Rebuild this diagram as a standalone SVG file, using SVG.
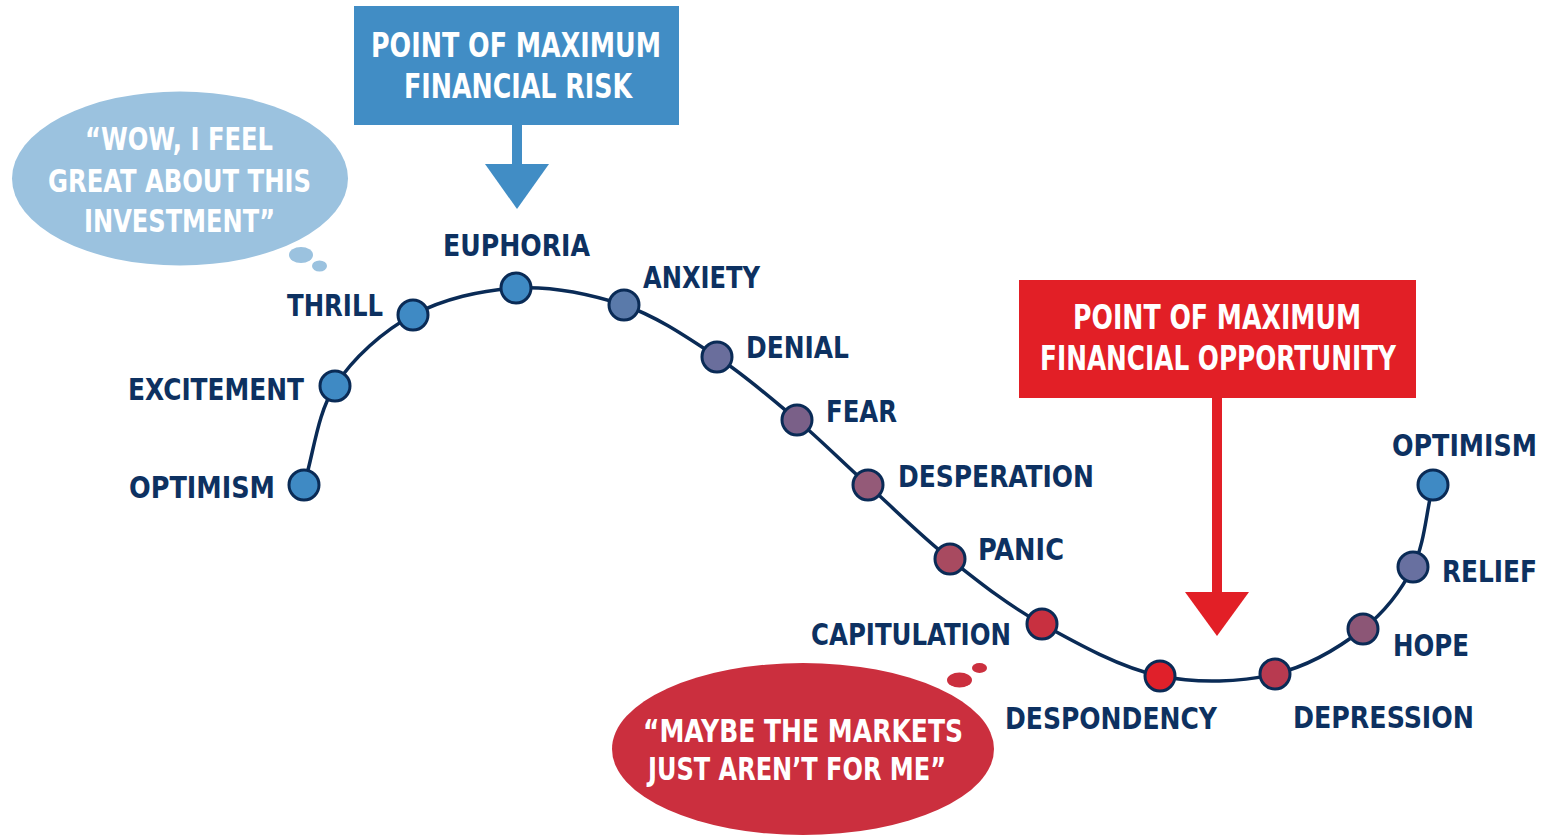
<svg xmlns="http://www.w3.org/2000/svg" width="1550" height="836" viewBox="0 0 1550 836">
<style>
text{font-family:"Liberation Sans Narrow","DejaVu Sans Condensed","Liberation Sans",sans-serif;font-weight:bold}
.lbl{fill:#0d3161;font-size:31px}
.box{fill:#fff;font-size:34px;text-anchor:middle}
.bub{fill:#fff;font-size:32px;text-anchor:middle}
.dot{stroke:#0a2b56;stroke-width:3}
.curve{fill:none;stroke:#0a2b56;stroke-width:3.5}
</style>
<rect width="1550" height="836" fill="#fff"/>
<g id="risk-callout">
<rect x="354" y="6" width="325" height="119" fill="#418dc5"/>
<rect x="512" y="124" width="10" height="42" fill="#418dc5"/>
<polygon points="485,164 549,164 517,209" fill="#418dc5"/>
<text class="box" x="516" y="57" textLength="290" lengthAdjust="spacingAndGlyphs">POINT OF MAXIMUM</text>
<text class="box" x="518" y="98" textLength="228" lengthAdjust="spacingAndGlyphs">FINANCIAL RISK</text>
</g>
<g id="opportunity-callout">
<rect x="1019" y="280" width="397" height="118" fill="#e21f26"/>
<rect x="1212" y="397" width="10" height="197" fill="#e21f26"/>
<polygon points="1185,592 1249,592 1217,636" fill="#e21f26"/>
<text class="box" x="1217" y="329" textLength="288" lengthAdjust="spacingAndGlyphs">POINT OF MAXIMUM</text>
<text class="box" x="1218" y="370" textLength="356" lengthAdjust="spacingAndGlyphs">FINANCIAL OPPORTUNITY</text>
</g>
<g id="thought-euphoria">
<ellipse cx="180" cy="178.5" rx="168" ry="87" fill="#9bc2df"/>
<ellipse cx="301" cy="255" rx="12" ry="8" fill="#9bc2df"/>
<ellipse cx="319.5" cy="266" rx="7.5" ry="5.5" fill="#9bc2df"/>
<text class="bub" x="179" y="150" textLength="188" lengthAdjust="spacingAndGlyphs">“WOW, I FEEL</text>
<text class="bub" x="179.5" y="192" textLength="263" lengthAdjust="spacingAndGlyphs">GREAT ABOUT THIS</text>
<text class="bub" x="179.5" y="232" textLength="191" lengthAdjust="spacingAndGlyphs">INVESTMENT”</text>
</g>
<g id="thought-despondency">
<ellipse cx="803" cy="749" rx="191" ry="86" fill="#cb2f3e"/>
<ellipse cx="959.5" cy="680" rx="12.5" ry="7.5" fill="#cb2f3e"/>
<ellipse cx="979.5" cy="668" rx="7.5" ry="5" fill="#cb2f3e"/>
<text class="bub" x="803" y="742" textLength="320" lengthAdjust="spacingAndGlyphs">“MAYBE THE MARKETS</text>
<text class="bub" x="797" y="780" textLength="298" lengthAdjust="spacingAndGlyphs">JUST AREN’T FOR ME”</text>
</g>
<g id="connectors">
<path class="curve" d="M304,485 C314,452 317,414 335,386 C353,358 383,331 413,315 C443,299 481,290 516,288 C551,286 590,294 624,305 C658,317 688,338 717,357 C746,376 772,399 797,420 C822,441 842,462 868,485 C893,508 921,536 950,559 C979,582 1007,604.5 1042,624 C1077,643.5 1121,668 1160,676 C1199,684 1241,682 1275,674 C1309,666 1340,647 1363,629 C1386,611 1401,591 1413,567 C1425,543 1426,512 1433,485"/>
</g>
<g id="optimism-1"><circle class="dot" cx="304" cy="485" r="15" fill="#3f8ac4"/><text class="lbl" x="275" y="498" text-anchor="end" textLength="146" lengthAdjust="spacingAndGlyphs">OPTIMISM</text></g>
<g id="excitement"><circle class="dot" cx="335" cy="386" r="15" fill="#3f8ac4"/><text class="lbl" x="304" y="400" text-anchor="end" textLength="176" lengthAdjust="spacingAndGlyphs">EXCITEMENT</text></g>
<g id="thrill"><circle class="dot" cx="413" cy="315" r="15" fill="#3f8ac4"/><text class="lbl" x="383" y="316" text-anchor="end" textLength="96" lengthAdjust="spacingAndGlyphs">THRILL</text></g>
<g id="euphoria"><circle class="dot" cx="516" cy="288" r="15" fill="#3f8ac4"/><text class="lbl" x="443" y="256" textLength="147" lengthAdjust="spacingAndGlyphs">EUPHORIA</text></g>
<g id="anxiety"><circle class="dot" cx="624" cy="305" r="15" fill="#5a7aaa"/><text class="lbl" x="643" y="288" textLength="117" lengthAdjust="spacingAndGlyphs">ANXIETY</text></g>
<g id="denial"><circle class="dot" cx="717" cy="357" r="15" fill="#6a6e9c"/><text class="lbl" x="746" y="358" textLength="103" lengthAdjust="spacingAndGlyphs">DENIAL</text></g>
<g id="fear"><circle class="dot" cx="797" cy="420" r="15" fill="#7a6088"/><text class="lbl" x="826" y="422" textLength="71" lengthAdjust="spacingAndGlyphs">FEAR</text></g>
<g id="desperation"><circle class="dot" cx="868" cy="485" r="15" fill="#945a78"/><text class="lbl" x="898" y="487" textLength="196" lengthAdjust="spacingAndGlyphs">DESPERATION</text></g>
<g id="panic"><circle class="dot" cx="950" cy="559" r="15" fill="#a84a60"/><text class="lbl" x="978" y="560" textLength="86" lengthAdjust="spacingAndGlyphs">PANIC</text></g>
<g id="capitulation"><circle class="dot" cx="1042" cy="624" r="15" fill="#c83040"/><text class="lbl" x="1011" y="645" text-anchor="end" textLength="200" lengthAdjust="spacingAndGlyphs">CAPITULATION</text></g>
<g id="despondency"><circle class="dot" cx="1160" cy="676" r="15" fill="#e0202a"/><text class="lbl" x="1005" y="729" textLength="212" lengthAdjust="spacingAndGlyphs">DESPONDENCY</text></g>
<g id="depression"><circle class="dot" cx="1275" cy="674" r="15" fill="#b83a50"/><text class="lbl" x="1293" y="728" textLength="181" lengthAdjust="spacingAndGlyphs">DEPRESSION</text></g>
<g id="hope"><circle class="dot" cx="1363" cy="629" r="15" fill="#8c5676"/><text class="lbl" x="1393" y="656" textLength="76" lengthAdjust="spacingAndGlyphs">HOPE</text></g>
<g id="relief"><circle class="dot" cx="1413" cy="567" r="15" fill="#6870a0"/><text class="lbl" x="1442" y="582" textLength="95" lengthAdjust="spacingAndGlyphs">RELIEF</text></g>
<g id="optimism-2"><circle class="dot" cx="1433" cy="485" r="15" fill="#3f8ac4"/><text class="lbl" x="1392" y="456" textLength="145" lengthAdjust="spacingAndGlyphs">OPTIMISM</text></g>
</svg>
